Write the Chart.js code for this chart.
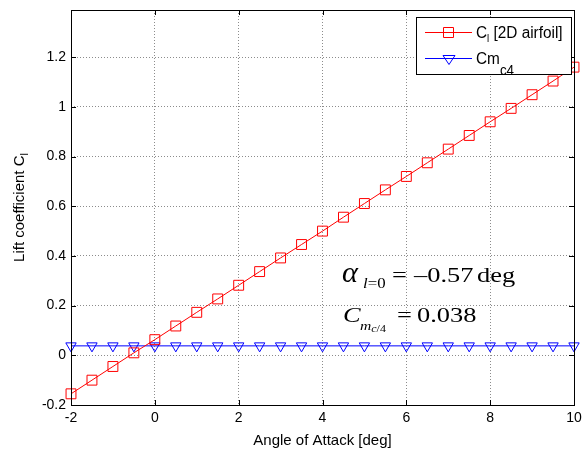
<!DOCTYPE html>
<html>
<head>
<meta charset="utf-8">
<script src="https://cdn.jsdelivr.net/npm/chart.js@4.4.1/dist/chart.umd.min.js"></script>
<style>
html, body { margin: 0; padding: 0; background: #fff; }
#wrap { width: 582px; height: 450px; }
</style>
</head>
<body>
<div id="wrap"><canvas id="liftChart" width="582" height="450"></canvas></div>
<script>
// angle of attack [deg]
const alphaDeg = [-2, -1.5, -1, -0.5, 0, 0.5, 1, 1.5, 2, 2.5, 3, 3.5, 4, 4.5, 5, 5.5, 6, 6.5, 7, 7.5, 8, 8.5, 9, 9.5, 10];
// lift coefficient, 2D airfoil
const clValues = [-0.155, -0.100, -0.045, 0.010, 0.063, 0.118, 0.173, 0.227, 0.282, 0.337, 0.392, 0.446, 0.500,
                  0.556, 0.611, 0.666, 0.720, 0.775, 0.830, 0.885, 0.940, 0.994, 1.049, 1.104, 1.160];
// moment coefficient about c/4
const cmValues = [0.038, 0.038, 0.038, 0.038, 0.038, 0.038, 0.038, 0.038, 0.038, 0.038, 0.038, 0.038, 0.038,
                  0.038, 0.038, 0.038, 0.038, 0.038, 0.038, 0.038, 0.038, 0.038, 0.038, 0.038, 0.038];
const xTicks = [-2, 0, 2, 4, 6, 8, 10];
const yTicks = [-0.2, 0, 0.2, 0.4, 0.6, 0.8, 1, 1.2];

const SANS = "'Liberation Sans', Arial, sans-serif";
const SERIF = "'Liberation Serif', 'Times New Roman', serif";

// draws text pieces one after another, each {t, size, style, dy, at, sx}; sx stretches horizontally
function drawRuns(ctx, x, y, runs, family, sx) {
    let cx = x;
    runs.forEach(r => {
        const k = r.sx || sx || 1;
        ctx.font = (r.style || '') + ' ' + r.size + 'px ' + family;
        if (r.at !== undefined) cx = r.at;
        ctx.save();
        ctx.translate(cx, y + (r.dy || 0));
        ctx.scale(k, 1);
        ctx.fillText(r.t, 0, 0);
        ctx.restore();
        cx += ctx.measureText(r.t).width * k;
    });
}

const framePlugin = {
    id: 'frame',
    afterDraw(chart) {
        const ctx = chart.ctx;
        const a = chart.chartArea;
        const xs = chart.scales.x, ys = chart.scales.y;
        ctx.save();

        // axes box + inward ticks
        ctx.strokeStyle = '#000';
        ctx.lineWidth = 1;
        ctx.strokeRect(Math.round(a.left) + 0.5, Math.round(a.top) + 0.5, Math.round(a.right - a.left), Math.round(a.bottom - a.top));
        ctx.beginPath();
        xTicks.forEach(v => {
            const px = Math.round(xs.getPixelForValue(v)) + 0.5;
            ctx.moveTo(px, a.bottom); ctx.lineTo(px, a.bottom - 5);
            ctx.moveTo(px, a.top); ctx.lineTo(px, a.top + 5);
        });
        yTicks.forEach(v => {
            const py = Math.round(ys.getPixelForValue(v)) + 0.5;
            ctx.moveTo(a.left, py); ctx.lineTo(a.left + 5, py);
            ctx.moveTo(a.right, py); ctx.lineTo(a.right - 5, py);
        });
        ctx.stroke();

        // y axis title with subscript
        ctx.fillStyle = '#000';
        ctx.textBaseline = 'alphabetic';
        ctx.textAlign = 'left';
        ctx.save();
        ctx.translate(24, (a.top + a.bottom) / 2);
        ctx.rotate(-Math.PI / 2);
        ctx.font = '15px ' + SANS;
        const w1 = ctx.measureText('Lift coefficient C').width;
        ctx.font = '11px ' + SANS;
        const w2 = ctx.measureText('l').width;
        drawRuns(ctx, -(w1 + w2) / 2, 0, [
            { t: 'Lift coefficient C', size: 15 },
            { t: 'l', size: 11, dy: 4 }
        ], SANS);
        ctx.restore();

        // legend
        const lx = 416.5, ly = 17.5, lw = 155, lh = 57;
        ctx.fillStyle = '#fff';
        ctx.fillRect(lx, ly, lw, lh);
        ctx.strokeStyle = '#000';
        ctx.strokeRect(lx, ly, lw, lh);
        const rows = [
            { y: 32.5, color: '#ff0000', marker: 'rect' },
            { y: 58.5, color: '#0000ff', marker: 'tri' }
        ];
        rows.forEach(r => {
            ctx.strokeStyle = r.color;
            ctx.beginPath();
            ctx.moveTo(425, r.y); ctx.lineTo(472, r.y);
            ctx.stroke();
            ctx.beginPath();
            if (r.marker === 'rect') {
                ctx.rect(443.5, r.y - 5, 10, 10);
            } else {
                ctx.moveTo(443, r.y - 3); ctx.lineTo(455, r.y - 3); ctx.lineTo(449, r.y + 6); ctx.closePath();
            }
            ctx.stroke();
        });
        ctx.fillStyle = '#000';
        drawRuns(ctx, 476, 38, [
            { t: 'C', size: 16 },
            { t: 'l', size: 10, dy: 4 },
            { t: ' [2D airfoil]', size: 16 }
        ], SANS, 0.96);
        drawRuns(ctx, 476, 64, [
            { t: 'Cm', size: 16 },
            { t: 'c4', size: 14, dy: 11 }
        ], SANS, 0.96);

        // annotations (serif, slightly wide as in the original render)
        drawRuns(ctx, 342, 282, [
            { t: 'α', size: 29, style: 'italic', sx: 1.05 },
            { t: 'l', size: 14, style: 'italic', dy: 6, at: 363 },
            { t: '=0', size: 14, dy: 6 },
            { t: '=', size: 22, at: 392 },
            { t: '\u20130.57', size: 22, at: 414 },
            { t: 'deg', size: 22, at: 477 }
        ], SERIF, 1.2);
        drawRuns(ctx, 343, 322, [
            { t: 'C', size: 22, style: 'italic' },
            { t: 'm', size: 13, style: 'italic', dy: 8, at: 360 },
            { t: 'c', size: 10, style: 'italic', dy: 10 },
            { t: '/4', size: 10, dy: 10 },
            { t: '=', size: 22, at: 397 },
            { t: '0.038', size: 22, at: 417 }
        ], SERIF, 1.2);

        ctx.restore();
    }
};

const tickFmt = v => String(Math.round(v * 10) / 10);

new Chart(document.getElementById('liftChart'), {
    type: 'line',
    data: {
        datasets: [{
            label: 'Cl [2D airfoil]',
            data: alphaDeg.map((a, i) => ({ x: a, y: clValues[i] })),
            borderColor: '#ff0000',
            borderWidth: 1,
            pointStyle: 'rect',
            pointRadius: 7,
            pointBorderColor: '#ff0000',
            pointBackgroundColor: 'rgba(0,0,0,0)',
            pointBorderWidth: 1,
            tension: 0,
            clip: false
        }, {
            label: 'Cm c4',
            data: alphaDeg.map((a, i) => ({ x: a, y: cmValues[i] })),
            borderColor: '#0000ff',
            borderWidth: 1,
            pointStyle: 'triangle',
            pointRotation: 180,
            pointRadius: 6,
            pointBorderColor: '#0000ff',
            pointBackgroundColor: 'rgba(0,0,0,0)',
            pointBorderWidth: 1,
            tension: 0,
            clip: false
        }]
    },
    options: {
        responsive: false,
        animation: false,
        layout: { padding: { top: 10, right: 7, left: 0, bottom: 0 } },
        plugins: { legend: { display: false }, tooltip: { enabled: false } },
        scales: {
            x: {
                type: 'linear', min: -2, max: 10,
                afterBuildTicks: s => { s.ticks = xTicks.map(v => ({ value: v })); },
                afterFit: s => { s.height = 45; s.paddingLeft = 0; s.paddingRight = 0; },
                grid: { color: '#8c8c8c', lineWidth: 1, drawTicks: false },
                border: { display: false, dash: [1, 2] },
                ticks: { color: '#000', font: { family: SANS, size: 14 }, padding: 5, maxRotation: 0, callback: tickFmt },
                title: { display: true, text: 'Angle of Attack [deg]', color: '#000', font: { family: SANS, size: 15 }, padding: { top: 0, bottom: 0 } }
            },
            y: {
                type: 'linear', min: -0.2, max: 1.39,
                afterBuildTicks: s => { s.ticks = yTicks.map(v => ({ value: v })); },
                afterFit: s => { s.width = 71; s.paddingTop = 0; s.paddingBottom = 0; },
                grid: { color: '#8c8c8c', lineWidth: 1, drawTicks: false },
                border: { display: false, dash: [1, 2] },
                ticks: { color: '#000', font: { family: SANS, size: 14 }, padding: 5, callback: tickFmt }
            }
        }
    },
    plugins: [framePlugin]
});
</script>
</body>
</html>
